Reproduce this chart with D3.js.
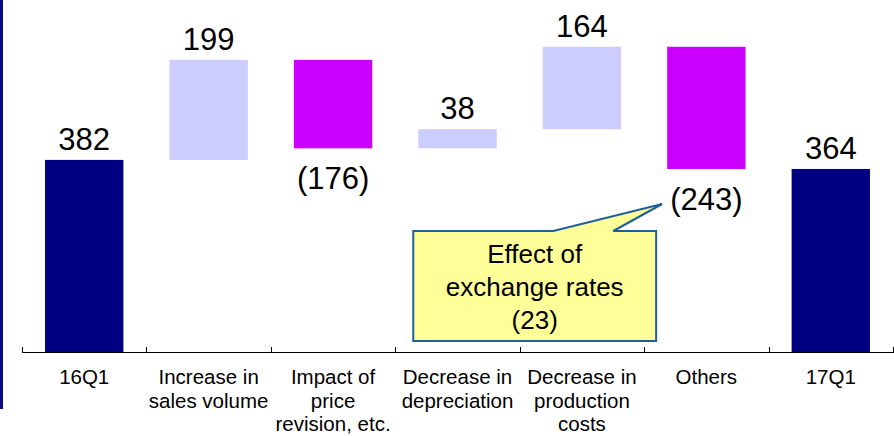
<!DOCTYPE html>
<html lang="en">
<head>
<meta charset="UTF-8">
<title>Waterfall 16Q1 to 17Q1</title>
<script src="https://d3js.org/d3.v7.min.js"></script>
<style>
    body { margin: 0; background: #fff; }
    svg { display: block; font-family: Arial, "Liberation Sans", sans-serif; }
    .val { font-size: 31px; fill: #000; text-anchor: middle; }
    .cat { font-size: 20.5px; fill: #000; text-anchor: middle; }
    .note { font-size: 26px; fill: #000; text-anchor: middle; }
</style>
</head>
<body>
<div id="chart"></div>
<script>
// categories (lines of each axis label)
const categories = [
    ["16Q1"],
    ["Increase in", "sales volume"],
    ["Impact of", "price", "revision, etc."],
    ["Decrease in", "depreciation"],
    ["Decrease in", "production", "costs"],
    ["Others"],
    ["17Q1"]
];
// change per step; totals are the first and last
const values = [382, 199, -176, 38, 164, -243, 364];
const kinds = ["total", "up", "down", "up", "up", "down", "total"];
const valueLabels = ["382", "199", "(176)", "38", "164", "(243)", "364"];
const noteLines = ["Effect of", "exchange rates", "(23)"];

const W = 894, H = 436;
const svg = d3.select("#chart").append("svg").attr("width", W).attr("height", H);

// left edge stripe
svg.append("rect").attr("x", 0).attr("y", 0).attr("width", 3).attr("height", 409).attr("fill", "#0c0c8c");

const keys = categories.map((c, i) => i);
const x = d3.scaleBand().domain(keys).range([22, 893]).padding(0);
const y = d3.scaleLinear().domain([0, 700]).range([352, 0]);
const barW = x.bandwidth() * 0.63;

// build waterfall steps
let run = 0;
const steps = values.map((v, i) => {
    let lo, hi;
    if (kinds[i] === "total") { lo = 0; hi = v; run = v; }
    else { const next = run + v; lo = Math.min(run, next); hi = Math.max(run, next); run = next; }
    return { i, lo, hi, kind: kinds[i], label: valueLabels[i] };
});

const color = { total: "#000080", up: "#ccccff", down: "#cc00ff" };

svg.selectAll("rect.bar").data(steps).enter().append("rect")
    .attr("class", "bar")
    .attr("x", d => x(d.i) + (x.bandwidth() - barW) / 2)
    .attr("y", d => y(d.hi))
    .attr("width", barW)
    .attr("height", d => y(d.lo) - y(d.hi))
    .attr("fill", d => color[d.kind]);

// value labels
svg.selectAll("text.val").data(steps).enter().append("text")
    .attr("class", "val")
    .attr("x", d => x(d.i) + x.bandwidth() / 2)
    .attr("y", d => d.kind === "down" ? y(d.lo) + 41 : y(d.hi) - 10)
    .text(d => d.label);

// axis
const axis = d3.axisBottom(x).tickSize(0).tickFormat("");
const gAxis = svg.append("g").attr("transform", "translate(0,352)").call(axis);
gAxis.select(".domain").attr("d", "M22,0.5H894").attr("stroke", "#000");
const bounds = keys.map(k => x(k)).concat([x(keys[keys.length - 1]) + x.bandwidth()]);
gAxis.selectAll("line.tk").data(bounds).enter().append("line")
    .attr("class", "tk")
    .attr("x1", d => Math.round(d) + 0.5).attr("x2", d => Math.round(d) + 0.5)
    .attr("y1", -5).attr("y2", 0)
    .attr("stroke", "#000");

// category labels
const cat = svg.selectAll("text.cat").data(categories).enter().append("text")
    .attr("class", "cat")
    .attr("x", (d, i) => x(i) + x.bandwidth() / 2)
    .attr("y", 384);
cat.selectAll("tspan").data(d => d).enter().append("tspan")
    .attr("x", function () { return this.parentNode.getAttribute("x"); })
    .attr("dy", (d, j) => j === 0 ? 0 : 23.5)
    .text(d => d);

// callout pointing at the Others label
const bx0 = x(3) + 18, bx1 = x(5) + 12, by0 = 231, by1 = 341;
const tipX = x(5) + 18, tipY = 204;
const p = d3.path();
p.moveTo(bx0, by0);
p.lineTo(bx0 + 140, by0);
p.lineTo(tipX, tipY);
p.lineTo(bx0 + 200, by0);
p.lineTo(bx1, by0);
p.lineTo(bx1, by1);
p.lineTo(bx0, by1);
p.closePath();
svg.append("path").attr("d", p.toString())
    .attr("fill", "#ffff99").attr("stroke", "#1f5f9a").attr("stroke-width", 2)
    .attr("stroke-linejoin", "miter");
svg.selectAll("text.note").data(noteLines).enter().append("text")
    .attr("class", "note")
    .attr("x", (bx0 + bx1) / 2)
    .attr("y", (d, i) => 263 + i * 33)
    .text(d => d);
</script>
</body>
</html>
